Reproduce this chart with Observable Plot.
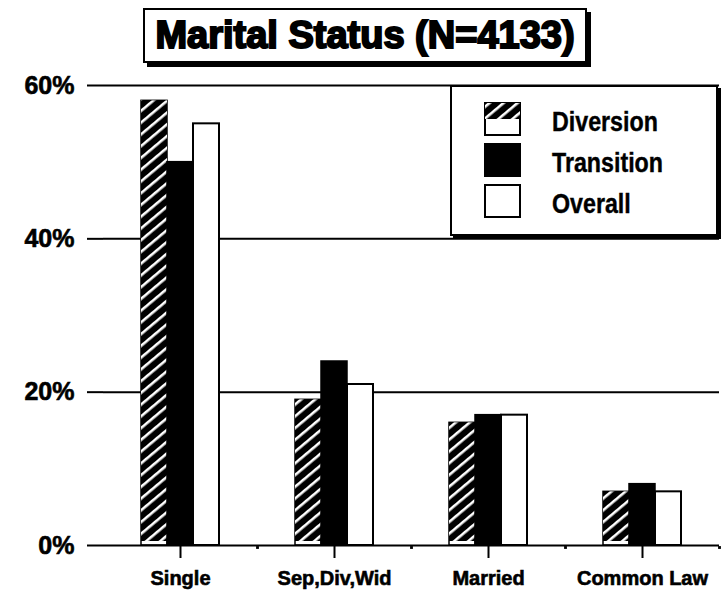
<!DOCTYPE html>
<html><head><meta charset="utf-8">
<script src="https://cdn.jsdelivr.net/npm/d3@7"></script>
<script src="https://cdn.jsdelivr.net/npm/@observablehq/plot@0.6"></script>
<style>
body{margin:0;background:#fff;font-family:"Liberation Sans",Arial,sans-serif;}
#wrap{position:relative;width:726px;height:597px;overflow:hidden;}
#title{position:absolute;left:143px;top:8px;width:440px;height:51px;border:2px solid #000;box-shadow:4px 4px 0 #000;background:#fff;display:flex;align-items:center;justify-content:center;font-weight:bold;font-size:38px;-webkit-text-stroke:2px #000;white-space:nowrap;z-index:2;}
#chart{position:absolute;left:0;top:70px;}
#legend{position:absolute;left:450px;top:85px;width:264px;height:147px;border:2px solid #000;box-shadow:3px 3px 0 #000;background:#fff;z-index:2;}
.sw{position:absolute;left:32px;width:37px;height:34px;}
.lab{position:absolute;left:100px;font-family:"Liberation Sans",Arial,sans-serif;font-weight:bold;font-size:27px;line-height:34px;transform:scaleX(0.86);transform-origin:left center;-webkit-text-stroke:0.4px #000;white-space:nowrap;}
#chart svg text{paint-order:stroke;stroke:#000;stroke-width:0.6px;}
</style></head>
<body>
<div id="wrap">
  <div id="title">Marital Status (N=4133)</div>
  <div id="chart"></div>
  <div id="legend"></div>
</div>
<script>
const categories = ["Single", "Sep,Div,Wid", "Married", "Common Law"];
const series = ["Diversion", "Transition", "Overall"];
const diversion = [58, 19, 16, 7];
const transition = [50, 24, 17, 8];
const overall = [55, 21, 17, 7];
const yTicks = [0, 20, 40, 60];

const values = {Diversion: diversion, Transition: transition, Overall: overall};
const data = categories.flatMap((c, i) => series.map(s => ({category: c, series: s, value: values[s][i]})));
const isDiv = d => d.series === "Diversion";

const chart = Plot.plot({
  width: 726, height: 527,
  marginLeft: 102, marginRight: 6, marginTop: 15, marginBottom: 52,
  style: {fontFamily: "'Liberation Sans', Arial, sans-serif", background: "transparent", color: "black"},
  fx: {domain: categories, padding: 0, label: null},
  x: {domain: series, paddingInner: 0, paddingOuter: 1.36, axis: null},
  y: {domain: [0, 60], label: null},
  marks: [
    Plot.ruleY(yTicks.filter(t => t > 0), {stroke: "black", strokeWidth: 2}),
    Plot.barY(data.filter(isDiv), {fx: "category", x: "series", y: "value", fill: "white", stroke: "black", strokeWidth: 1.5}),
    Plot.barY(data.filter(isDiv), {fx: "category", x: "series", y: "value", fill: "url(#hatch)", insetBottom: 4}),
    Plot.barY(data.filter(d => d.series === "Transition"), {fx: "category", x: "series", y: "value", fill: "black", stroke: "black", strokeWidth: 1.5}),
    Plot.barY(data.filter(d => d.series === "Overall"), {fx: "category", x: "series", y: "value", fill: "white", stroke: "black", strokeWidth: 2}),
    Plot.ruleY([0], {stroke: "black", strokeWidth: 2}),
    Plot.dot(categories, {fx: d => d, frameAnchor: "bottom-right", symbol: "square", r: 1.6, fill: "black", dy: 2}),
    Plot.axisY({ticks: yTicks, tickSize: 16, tickPadding: 13, tickFormat: d => d + "%", fontSize: 25, fontWeight: "bold", strokeWidth: 2, line: true, label: null}),
    Plot.axisFx({anchor: "bottom", tickSize: 13, tickPadding: 12, fontSize: 20, fontWeight: "bold", strokeWidth: 2, label: null})
  ]
});

// hatch pattern
const defs = d3.select(chart).insert("defs", ":first-child");
const pat = defs.append("pattern").attr("id", "hatch").attr("patternUnits", "userSpaceOnUse")
  .attr("width", 9).attr("height", 9).attr("patternTransform", "rotate(50)");
pat.append("rect").attr("width", 9).attr("height", 9).attr("fill", "black");
pat.append("rect").attr("x", 3).attr("width", 2.6).attr("height", 9).attr("fill", "white");

document.getElementById("chart").append(chart);

// legend
const legend = d3.select("#legend");
series.forEach((s, i) => {
  const top = 15 + i * 41;
  const sw = legend.append("svg").attr("class", "sw").style("top", top + "px").attr("width", 37).attr("height", 34);
  if (s === "Diversion") {
    sw.append("rect").attr("x", 1).attr("y", 1).attr("width", 35).attr("height", 32).attr("fill", "white").attr("stroke", "black").attr("stroke-width", 2);
    sw.append("rect").attr("x", 1).attr("y", 1).attr("width", 35).attr("height", 16).attr("fill", "url(#hatch)");
  } else {
    sw.append("rect").attr("x", 1).attr("y", 1).attr("width", 35).attr("height", 32)
      .attr("fill", s === "Transition" ? "black" : "white").attr("stroke", "black").attr("stroke-width", 2);
  }
  legend.append("div").attr("class", "lab").style("top", (top + 3) + "px").text(s);
});
</script>
</body></html>
